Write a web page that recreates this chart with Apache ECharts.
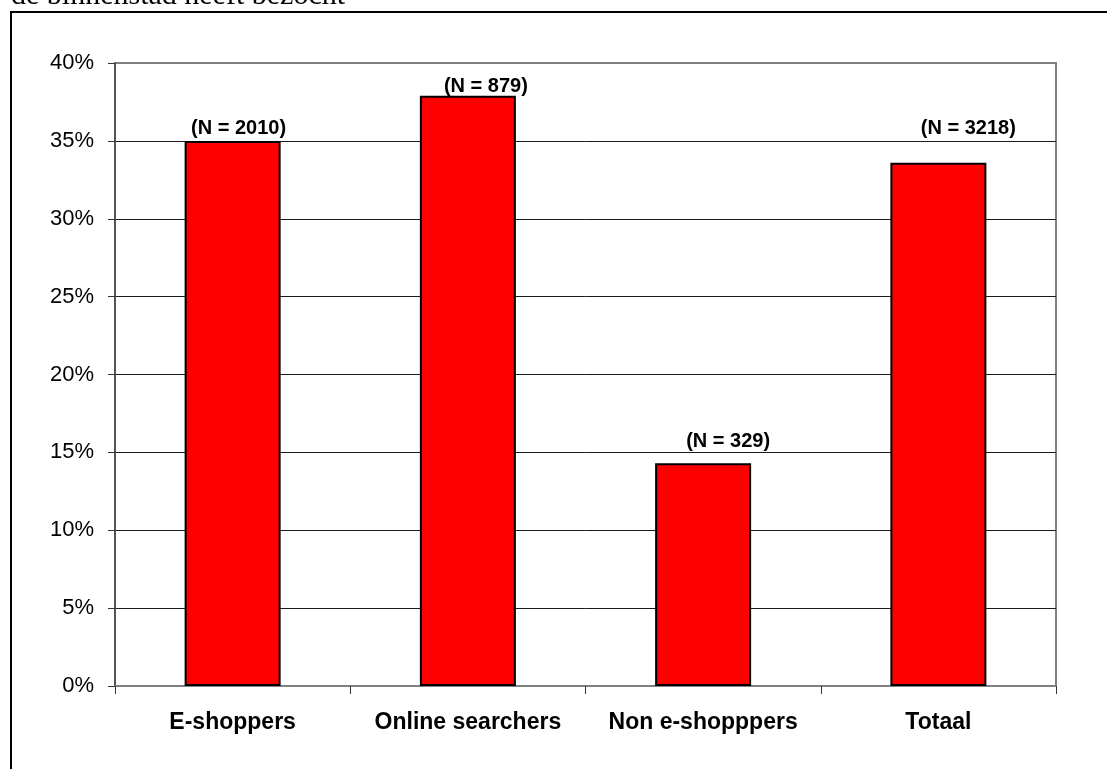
<!DOCTYPE html>
<html>
<head>
<meta charset="utf-8">
<script src="https://cdn.jsdelivr.net/npm/echarts@6/dist/echarts.min.js"></script>
<style>
  html, body { margin: 0; padding: 0; background: #ffffff; }
  #chart { width: 1107px; height: 769px; }
</style>
</head>
<body>
<div id="chart"></div>
<script>
// Categories and values (percent)
const categories = ['E-shoppers', 'Online searchers', 'Non e-shopppers', 'Totaal'];
const shares = [35.0, 37.9, 14.3, 33.6];
const sampleSizes = [2010, 879, 329, 3218];
const yTicks = [0, 5, 10, 15, 20, 25, 30, 35, 40];

// Hand placement of the N labels above each bar (pixels)
const labelShift = [[6, 4], [18, 7], [25, -6], [30, -18]];

const chart = echarts.init(document.getElementById('chart'), null, { renderer: 'canvas' });

const gridColors = yTicks.map((t, i) => (i === yTicks.length - 1 ? '#808080' : '#1a1a1a'));

chart.setOption({
  backgroundColor: '#ffffff',
  animation: false,
  grid: {
    left: 115, right: 51, top: 63, bottom: 83,
    show: true, borderColor: '#808080', borderWidth: 2, backgroundColor: 'transparent'
  },
  xAxis: {
    type: 'category',
    data: categories,
    boundaryGap: true,
    axisLine: { show: true, lineStyle: { color: '#808080', width: 2 } },
    axisTick: { show: true, interval: 0, alignWithLabel: false, length: 8, lineStyle: { color: '#333', width: 1 } },
    axisLabel: {
      interval: 0, hideOverlap: false,
      margin: 25, color: '#000', fontFamily: 'Liberation Sans, Arial, sans-serif',
      fontSize: 23, fontWeight: 'bold'
    },
    splitLine: { show: false }
  },
  yAxis: {
    type: 'value',
    min: yTicks[0], max: yTicks[yTicks.length - 1], interval: 5,
    axisLine: { show: true, lineStyle: { color: '#555', width: 2 } },
    axisTick: { show: true, length: 7, lineStyle: { color: '#333', width: 1 } },
    axisLabel: {
      margin: 21, color: '#000', fontFamily: 'Liberation Sans, Arial, sans-serif',
      fontSize: 22, formatter: v => v + '%'
    },
    splitLine: { show: true, lineStyle: { color: gridColors, width: 1 } }
  },
  series: [{
    type: 'bar',
    barWidth: 96,
    data: shares.map((v, i) => ({
      value: v,
      label: {
        show: true, position: 'top', distance: 6,
        offset: labelShift[i],
        formatter: '(N = ' + sampleSizes[i] + ')'
      }
    })),
    itemStyle: { color: '#ff0000', borderColor: '#000000', borderWidth: 2 },
    label: {
      color: '#000', fontFamily: 'Liberation Sans, Arial, sans-serif',
      fontSize: 20, fontWeight: 'bold'
    }
  }],
  graphic: [
    {
      type: 'rect',
      shape: { x: 11, y: 12, width: 1200, height: 900 },
      style: { fill: 'none', stroke: '#000', lineWidth: 2 },
      silent: true
    },
    {
      type: 'text',
      left: 11, top: -19,
      style: {
        text: 'de binnenstad heeft bezocht',
        font: '30px "Liberation Serif", "Times New Roman", serif',
        fill: '#000'
      },
      silent: true
    }
  ]
});
</script>
</body>
</html>
